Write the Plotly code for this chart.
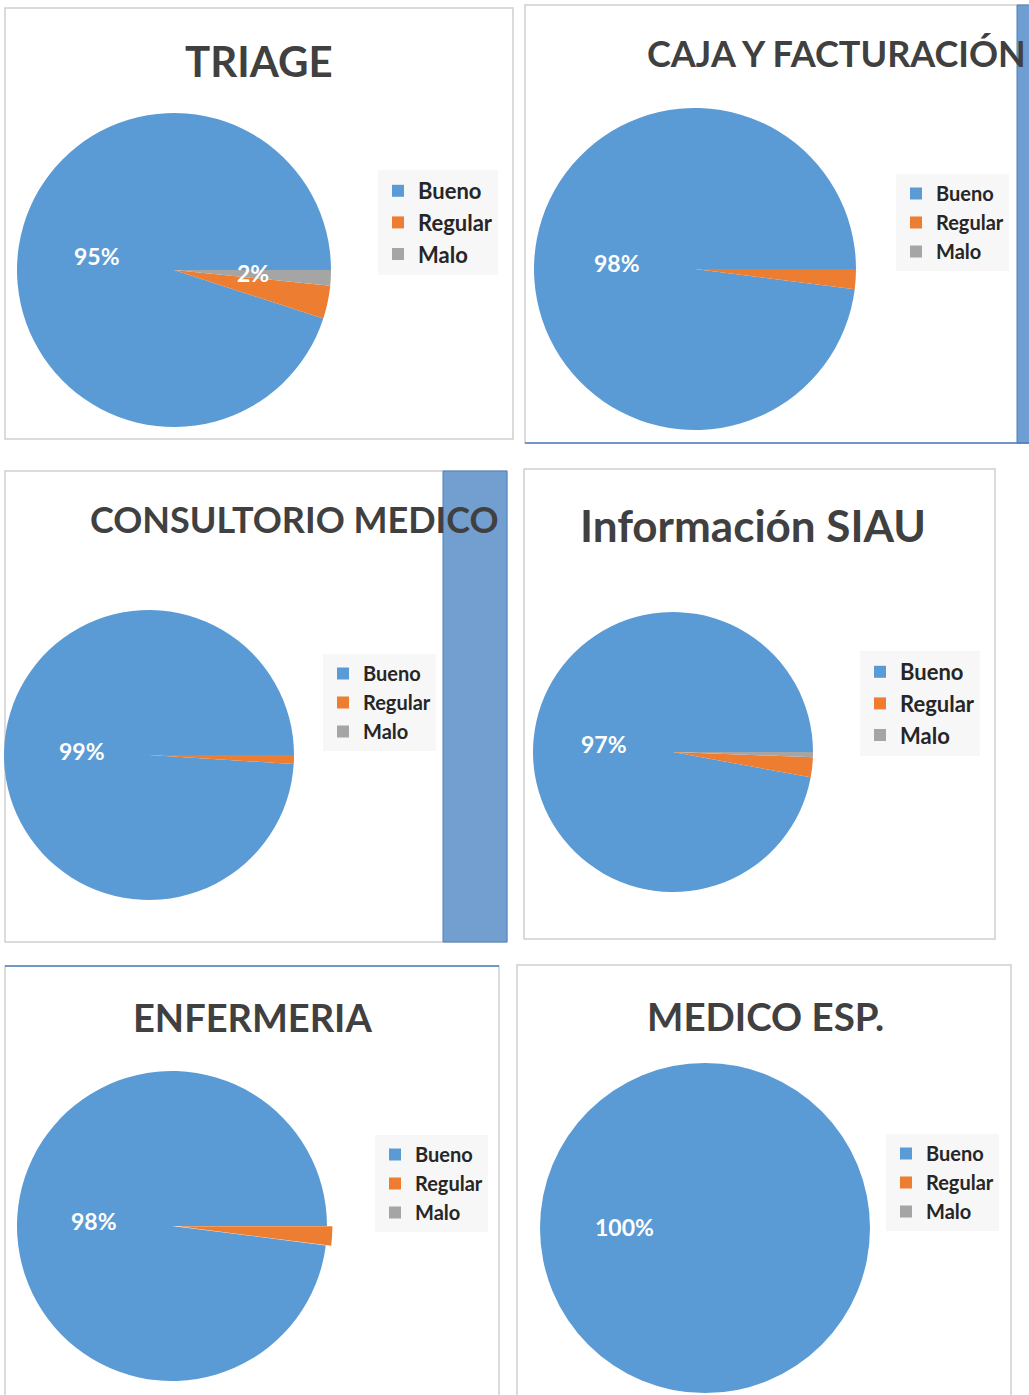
import plotly.graph_objects as go

W, H = 1029, 1395

# ---------------- data ----------------
categories = ["Bueno", "Regular", "Malo"]
titles = ["TRIAGE", "CAJA Y FACTURACIÓN", "CONSULTORIO MEDICO",
          "Información SIAU", "ENFERMERIA", "MEDICO ESP."]
triage = [95.0, 3.4, 1.6]
caja = [98.0, 2.0, 0.0]
consultorio = [99.0, 1.0, 0.0]
siau = [97.1, 2.3, 0.6]
enfermeria = [98.0, 2.0, 0.0]
medico_esp = [100.0, 0.0, 0.0]
series = [triage, caja, consultorio, siau, enfermeria, medico_esp]
# which slices carry a visible percentage label
shown_labels = [[1, 0, 1], [1, 0, 0], [1, 0, 0], [1, 0, 0], [1, 0, 0], [1, 0, 0]]

colors = ["#5B9BD5", "#ED7D31", "#A5A5A5"]

# ---------------- layout (pixel geometry / styles) ----------------
pie_geo = [  # center x, center y, radius
    (174, 270, 157), (695, 269, 161), (149, 755, 145),
    (673, 752, 140), (172, 1226, 155), (705, 1228, 165)]
pulls = [[0, 0, 0], [0, 0, 0], [0, 0, 0], [0, 0, 0], [0, 0.035, 0], [0, 0, 0]]
title_pos = [  # x, y, anchor, size
    (259, 61, "center", 42), (645, 53, "left", 36), (294, 519, "center", 36),
    (753, 525, "center", 44), (252, 1017, "center", 38), (765, 1016, "center", 38.5)]
label_pos = [
    [(97, 256), None, (253, 273)], [(617, 263), None, None],
    [(82, 751), None, None], [(604, 744), None, None],
    [(94, 1221), None, None], [(624, 1227), None, None]]
legend_pos = [(378, 170, 22), (896, 174, 20), (323, 654, 20),
              (860, 651, 22), (375, 1135, 20), (886, 1134, 20)]
panels = [(5, 8, 513, 439), (525, 5, 1040, 443), (5, 471, 507, 942),
          (524, 469, 995, 939), (5, 966, 499, 1400), (517, 965, 1011, 1400)]


def px(x):
    return x / W


def py(y):
    return 1 - y / H


fig = go.Figure()
annotations = []
shapes = []

# panel borders
for (x0, y0, x1, y1) in panels:
    shapes.append(dict(type="rect", xref="paper", yref="paper",
                       x0=px(x0), x1=px(x1), y0=py(y1), y1=py(y0),
                       line=dict(color="#CFCFCF", width=1.5),
                       fillcolor="white", layer="below"))
# blue strips / edges that appear in the composite
shapes.append(dict(type="rect", xref="paper", yref="paper",
                   x0=px(443), x1=px(507), y0=py(942), y1=py(471),
                   line=dict(color="#4F81BD", width=1),
                   fillcolor="#729FCF", layer="below"))
shapes.append(dict(type="rect", xref="paper", yref="paper",
                   x0=px(1017), x1=px(1032), y0=py(443), y1=py(5),
                   line=dict(color="#4F81BD", width=1),
                   fillcolor="#6F9FD2", layer="below"))
shapes.append(dict(type="line", xref="paper", yref="paper",
                   x0=px(525), x1=px(1029), y0=py(443), y1=py(443),
                   line=dict(color="#4F81BD", width=1.5), layer="below"))
shapes.append(dict(type="line", xref="paper", yref="paper",
                   x0=px(5), x1=px(499), y0=py(966), y1=py(966),
                   line=dict(color="#4F81BD", width=1.5), layer="below"))

legends = {}
for i, vals in enumerate(series):
    cx, cy, r = pie_geo[i]
    total = sum(vals)
    maxpull = max(pulls[i])
    rd = r * (1 + maxpull)
    lname = "legend" if i == 0 else f"legend{i + 1}"
    # first slice (Bueno) starts at 3 o'clock and runs counter-clockwise
    rot = 90 + 360 * (1 - vals[0] / total)
    fig.add_trace(go.Pie(
        labels=categories, values=vals, sort=False,
        direction="counterclockwise", rotation=rot,
        pull=pulls[i],
        marker=dict(colors=colors, line=dict(width=0)),
        textinfo="none", hoverinfo="label+percent",
        domain=dict(x=[px(cx - rd), px(cx + rd)], y=[py(cy + rd), py(cy - rd)]),
        showlegend=False,
    ))
    # legend entries of this chart (one per category, same colours as the slices)
    for cat, col in zip(categories, colors):
        fig.add_trace(go.Scatter(
            x=[None], y=[None], mode="markers", name=cat,
            marker=dict(symbol="square", size=12, color=col),
            legend=lname, showlegend=True, hoverinfo="skip"))
    lx, ly, fs = legend_pos[i]
    legends[lname] = dict(
        x=px(lx), y=py(ly), xanchor="left", yanchor="top",
        bgcolor="#F7F7F7", borderwidth=0, visible=True,
        traceorder="normal", itemsizing="trace",
        font=dict(family="Lato", size=fs, color="#262626", weight="bold"),
        itemclick=False, itemdoubleclick=False)

    tx, ty, anch, tsz = title_pos[i]
    annotations.append(dict(
        text=titles[i], xref="paper", yref="paper", x=px(tx), y=py(ty),
        xanchor=anch, yanchor="middle", showarrow=False,
        font=dict(family="Lato", size=tsz, color="#404040", weight="bold")))

    for j, v in enumerate(vals):
        if shown_labels[i][j] and label_pos[i][j] is not None:
            lxp, lyp = label_pos[i][j]
            annotations.append(dict(
                text=f"{round(v / total * 100):.0f}%", xref="paper", yref="paper",
                x=px(lxp), y=py(lyp), xanchor="center", yanchor="middle",
                showarrow=False,
                font=dict(family="Lato", size=23, color="white", weight="bold")))

fig.update_layout(
    width=W, height=H,
    margin=dict(l=0, r=0, t=0, b=0),
    paper_bgcolor="white", plot_bgcolor="rgba(0,0,0,0)",
    showlegend=True,
    xaxis=dict(visible=False, range=[0, 1]),
    yaxis=dict(visible=False, range=[0, 1]),
    annotations=annotations, shapes=shapes,
    **legends,
)

fig.write_html(
    "out.html",
    config={"displayModeBar": False},
    post_script="document.body.style.margin='0';document.body.style.overflow='hidden';")
